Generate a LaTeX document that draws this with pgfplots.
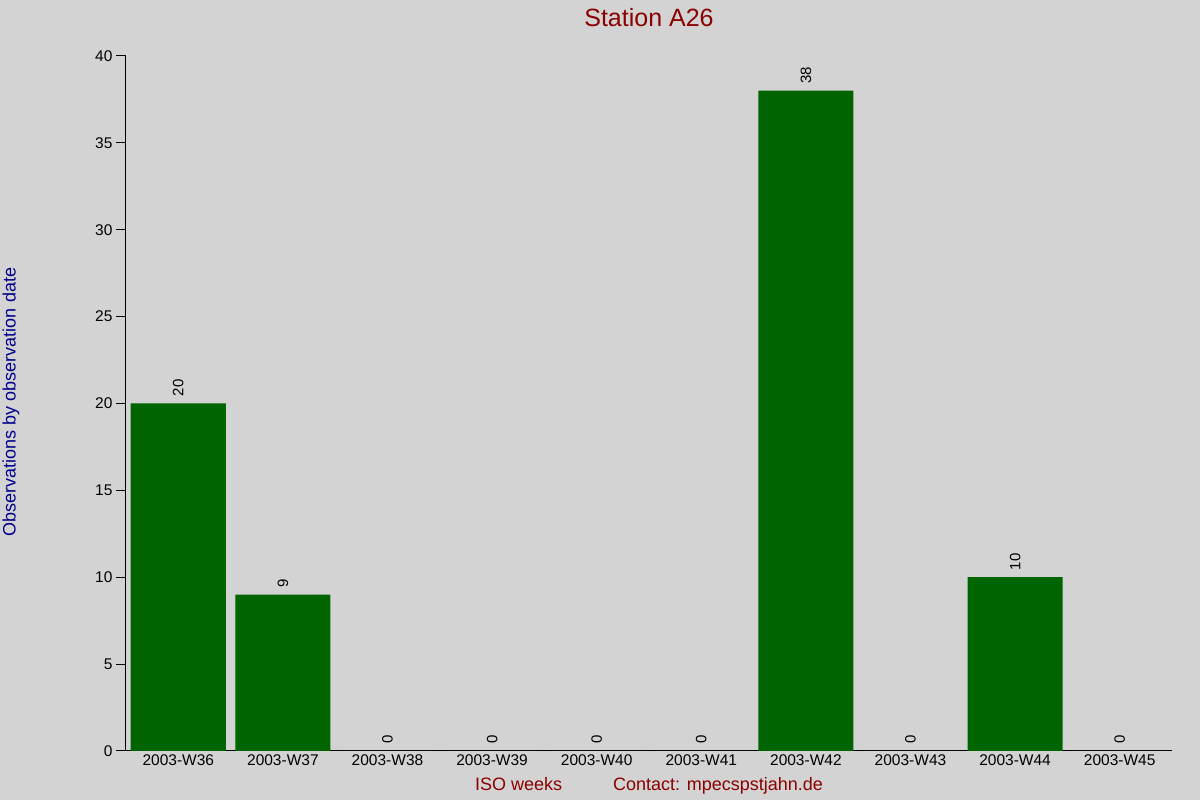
\documentclass[border=0pt]{standalone}
\usepackage{pgfplots}
\pgfplotsset{compat=1.18}
\usepackage{fontspec}
\setmainfont{Liberation Sans}
\definecolor{bg}{HTML}{D3D3D3}
\definecolor{bargreen}{HTML}{006400}
\definecolor{titlered}{HTML}{8B0000}
\definecolor{ylblue}{HTML}{00008B}
\begin{document}
\begin{tikzpicture}[x=1pt,y=1pt]
\useasboundingbox (-126,-49) rectangle (1074,751);
\fill[bg] (-127,-50) rectangle (1075,752);
\begin{axis}[
  at={(0,0)}, anchor=south west,
  scale only axis, width=1046pt, height=695pt,
  xmin=-0.5, xmax=9.5, ymin=0, ymax=40,
  axis lines*=left, axis line style={-, line width=1pt},
  ybar, bar width=0.91,
  ytick={0,5,...,40},
  ytick align=outside, xtick align=inside,
  major tick length=10pt,
  y tick style={line width=1pt, black},
  x tick style={draw=none},
  xtick=data,
  xticklabels={2003-W36,2003-W37,2003-W38,2003-W39,2003-W40,2003-W41,2003-W42,2003-W43,2003-W44,2003-W45},
  ticklabel style={font=\fontsize{15.5}{18}\selectfont},
  /pgf/number format/assume math mode=true,
  nodes near coords,
  nodes near coords style={rotate=90, anchor=west, inner xsep=7pt, inner ysep=0pt, font=\fontsize{15}{18}\selectfont, black},
]
\addplot[fill=bargreen, draw=none] coordinates {
  (0,20) (1,9) (2,0) (3,0) (4,0) (5,0) (6,38) (7,0) (8,10) (9,0)
};
\end{axis}
\node[text=titlered, font=\fontsize{25}{28}\selectfont] at (523,733) {Station A26};
\node[text=ylblue, font=\fontsize{18}{21}\selectfont, rotate=90] at (-115,349) {Observations by observation date};
\node[text=titlered, font=\fontsize{18}{21}\selectfont] at (523,-35) {ISO weeks\hspace{51pt}Contact: mpecspstjahn.de};
\end{tikzpicture}
\end{document}
